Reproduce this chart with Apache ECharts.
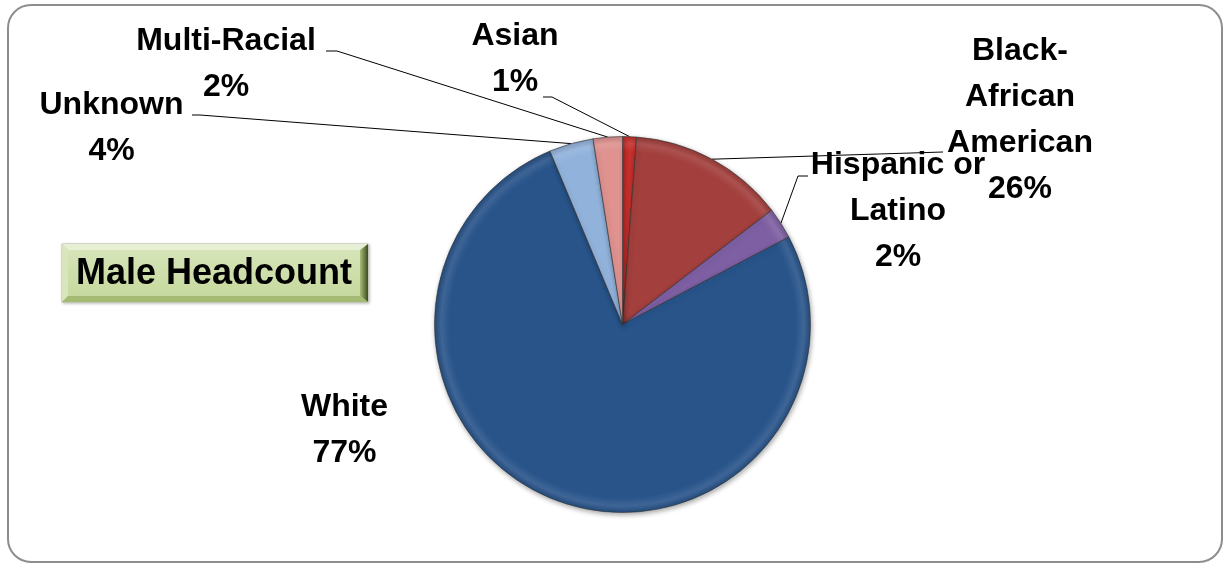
<!DOCTYPE html>
<html><head><meta charset="utf-8">
<script src="https://cdn.jsdelivr.net/npm/echarts@6/dist/echarts.min.js"></script>
<style>html,body{margin:0;padding:0;background:#fff}#c{width:1225px;height:565px}</style>
</head><body><div id="c"></div>
<script>
// ---- data ----
const categories = ['Asian', 'Black-African American', 'Hispanic or Latino', 'White', 'Unknown', 'Multi-Racial'];
const sliceValues = [1.2, 13.4, 2.7, 76.4, 3.8, 2.5];
const labelNames = ['Asian', 'Black-\nAfrican\nAmerican', 'Hispanic or\nLatino', 'White', 'Unknown', 'Multi-Racial'];
const labelPercents = ['1%', '26%', '2%', '77%', '4%', '2%'];
const sliceColors = ['#c8302c', '#a33f3c', '#7e5fa3', '#28548a', '#91b2db', '#df928f'];
const boxTitle = 'Male Headcount';

// ---- layout (style only) ----
const CX = 622.5, CY = 324.5, R = 188;
const FONT = "'Liberation Sans', Arial, sans-serif";
const labelSpots = [
  {x: 515, y: 13, line: [[552, 97], [543, 97]]},
  {x: 1020, y: 28, line: [null, [943, 152]]},
  {x: 898, y: 142, line: [[798, 176], [808, 176]]},
  {x: 344.5, y: 384, line: null},
  {x: 111.5, y: 82, line: [[200, 115], [192, 115]]},
  {x: 226, y: 18, line: [[337, 51], [326, 51]]}
];

function mix(hex, target, f) {
  const n = parseInt(hex.slice(1), 16);
  const r = (n >> 16) & 255, g = (n >> 8) & 255, b = n & 255;
  const t = target === 'w' ? 255 : 0;
  const m = v => Math.round(v + (t - v) * f);
  return 'rgb(' + m(r) + ',' + m(g) + ',' + m(b) + ')';
}
function sliceFill(base) {
  return {
    type: 'radial', x: CX, y: CY, r: R, global: true,
    colorStops: [
      {offset: 0, color: base},
      {offset: 0.92, color: base},
      {offset: 0.965, color: mix(base, 'w', 0.1)},
      {offset: 1, color: mix(base, 'k', 0.1)}
    ]
  };
}

const chart = echarts.init(document.getElementById('c'), null, {renderer: 'canvas'});

const data = categories.map((name, i) => ({
  name: name,
  value: sliceValues[i],
  itemStyle: {color: sliceFill(sliceColors[i])},
  labelLine: {show: labelSpots[i].line !== null}
}));

// bevelled title box
const X0 = 62, Y0 = 244, X1 = 368, Y1 = 302, B = 6;
const boxGraphics = [
  {type: 'rect', shape: {x: X0, y: Y0, width: X1 - X0, height: Y1 - Y0},
   style: {fill: '#c9dba3', stroke: '#b9c0aa', lineWidth: 1,
           shadowBlur: 3, shadowColor: 'rgba(0,0,0,0.25)', shadowOffsetX: 1, shadowOffsetY: 1}},
  {type: 'polygon', shape: {points: [[X0, Y0], [X1, Y0], [X1 - B, Y0 + B], [X0 + B, Y0 + B]]},
   style: {fill: '#e6efd3'}},
  {type: 'polygon', shape: {points: [[X0, Y0], [X0 + B, Y0 + B], [X0 + B, Y1 - B], [X0, Y1]]},
   style: {fill: '#d9e6bd'}},
  {type: 'polygon', shape: {points: [[X1, Y0], [X1, Y1], [X1 - B - 2, Y1 - B], [X1 - B - 2, Y0 + B]]},
   style: {fill: {type: 'linear', x: 0, y: 0, x2: 1, y2: 0,
     colorStops: [{offset: 0, color: '#a9bf7a'}, {offset: 1, color: '#3f4b20'}]}}},
  {type: 'polygon', shape: {points: [[X0, Y1], [X1, Y1], [X1 - B - 2, Y1 - B], [X0 + B, Y1 - B]]},
   style: {fill: '#a4ba72'}},
  {type: 'rect', shape: {x: X0 + B, y: Y0 + B, width: X1 - X0 - 2 * B - 2, height: Y1 - Y0 - 2 * B},
   style: {fill: {type: 'linear', x: 0, y: 0, x2: 0, y2: 1,
     colorStops: [{offset: 0, color: '#d6e4b8'}, {offset: 1, color: '#c6d99e'}]}}},
  {type: 'text', style: {text: boxTitle, x: (X0 + X1) / 2 - 1, y: (Y0 + Y1) / 2 + 1,
     align: 'center', verticalAlign: 'middle', fill: '#000',
     font: 'bold 36px ' + FONT}}
];

chart.setOption({
  animation: false,
  backgroundColor: '#ffffff',
  graphic: [
    {type: 'rect', shape: {x: 8, y: 5, width: 1214, height: 557, r: 23},
     style: {fill: 'none', stroke: '#8d8d8d', lineWidth: 2}, z: 0}
  ].concat(boxGraphics),
  series: [{
    type: 'pie',
    center: [CX, CY],
    radius: R,
    startAngle: 90,
    clockwise: true,
    avoidLabelOverlap: false,
    data: data,
    itemStyle: {
      borderColor: 'rgba(50,50,50,0.75)', borderWidth: 0.8,
      shadowBlur: 5, shadowColor: 'rgba(0,0,0,0.35)', shadowOffsetX: 1, shadowOffsetY: 2
    },
    label: {
      show: true,
      position: 'outside',
      formatter: p => labelNames[p.dataIndex] + '\n' + labelPercents[p.dataIndex],
      fontFamily: FONT,
      fontWeight: 'bold',
      fontSize: 32,
      lineHeight: 46,
      color: '#000',
      align: 'center'
    },
    labelLine: {show: true, lineStyle: {color: '#000', width: 1}, length: 10, length2: 10},
    labelLayout: function (params) {
      const s = labelSpots[params.dataIndex];
      const out = {x: s.x, y: s.y, align: 'center', verticalAlign: 'top'};
      if (s.line && params.labelLinePoints) {
        const p0 = params.labelLinePoints[0];
        if (s.line[0] === null) {
          const e = s.line[1];
          out.labelLinePoints = [p0, [(p0[0] + e[0]) / 2, (p0[1] + e[1]) / 2], e];
        } else {
          out.labelLinePoints = [p0, s.line[0], s.line[1]];
        }
      }
      return out;
    }
  }]
});
</script>
</body></html>
